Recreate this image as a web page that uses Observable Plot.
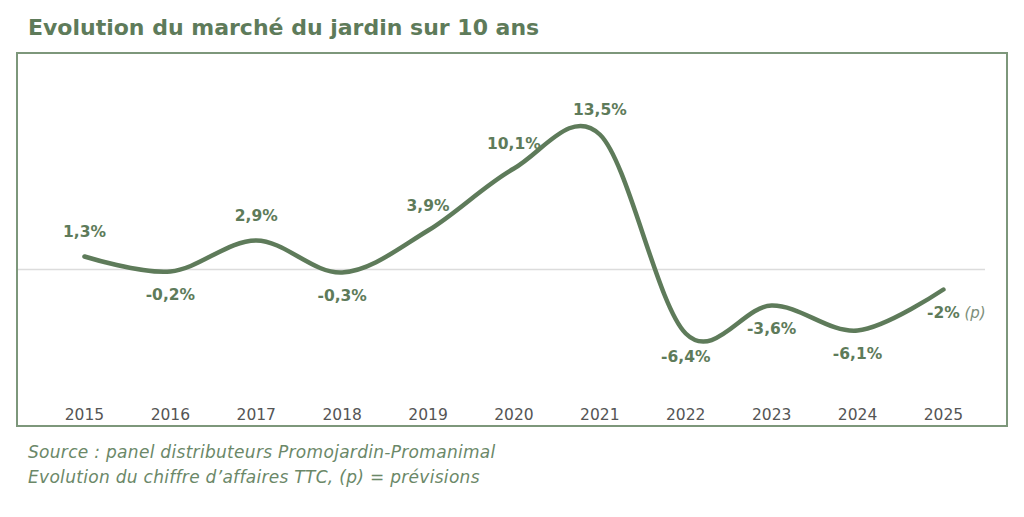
<!DOCTYPE html>
<html>
<head>
<meta charset="utf-8">
<script src="https://cdn.jsdelivr.net/npm/d3@7"></script>
<script src="https://cdn.jsdelivr.net/npm/@observablehq/plot@0.6"></script>
<style>
  body { margin: 0; background: #fff; font-family: "DejaVu Sans", sans-serif; }
  #title { height: 52px; line-height: 56px; padding-left: 28px; font-size: 22px; font-weight: 700; color: #5e7b5a; white-space: nowrap; }
  #box { margin-left: 16px; width: 988px; border: 2px solid #7d977b; }
  #box svg { display: block; }
  #caption { padding-top: 13px; padding-left: 28px; font-size: 17px; letter-spacing: 0.3px; line-height: 25px; font-style: italic; color: #6b8868; }
</style>
</head>
<body>
<div id="title">Evolution du marché du jardin sur 10 ans</div>
<div id="box"></div>
<div id="caption">Source : panel distributeurs Promojardin-Promanimal<br>Evolution du chiffre d’affaires TTC, (p) = prévisions</div>
<script>
const years = [2015, 2016, 2017, 2018, 2019, 2020, 2021, 2022, 2023, 2024, 2025];
const values = [1.3, -0.2, 2.9, -0.3, 3.9, 10.1, 13.5, -6.4, -3.6, -6.1, -2];
const labels = ["1,3%", "-0,2%", "2,9%", "-0,3%", "3,9%", "10,1%", "13,5%", "-6,4%", "-3,6%", "-6,1%", "-2%"];
const forecastYears = [2025];
const forecastNote = "(p)";

const data = years.map((year, i) => ({year, value: values[i], label: labels[i], forecast: forecastYears.includes(year)}));
const green = "#5e7b5a";

const chart = Plot.plot({
  width: 988,
  height: 371,
  marginLeft: 0,
  marginRight: 21,
  marginTop: 0,
  marginBottom: 18,
  style: {fontFamily: "'DejaVu Sans', sans-serif", background: "transparent", overflow: "visible"},
  x: {domain: [2014.232, 2025.49], ticks: years, tickFormat: d => String(d)},
  y: {domain: [-14, 20], range: [355, 15], axis: null},
  marks: [
    Plot.ruleY([0], {stroke: "#dcdcdc", strokeWidth: 1.5}),
    Plot.axisX({ticks: years, tickFormat: d => String(d), tickSize: 0, tickPadding: 1, fontSize: 15.5, fill: "#555", label: null}),
    Plot.line(data, {x: "year", y: "value", curve: "cardinal", stroke: green, strokeWidth: 4.5, strokeLinecap: "round"}),
    Plot.text(data.filter(d => d.value >= 0), {x: "year", y: "value", text: "label", dy: -24, fontSize: 15.5, fontWeight: 700, fill: green}),
    Plot.text(data.filter(d => d.value < 0), {x: "year", y: "value", text: "label", dy: 24, fontSize: 15.5, fontWeight: 700, fill: green}),
    Plot.text(data.filter(d => d.forecast), {x: "year", y: "value", text: () => forecastNote, dy: 24, dx: 21, textAnchor: "start", fontSize: 15, fontStyle: "italic", fill: "#7d8f7b"})
  ]
});
document.getElementById("box").appendChild(chart);
</script>
</body>
</html>
